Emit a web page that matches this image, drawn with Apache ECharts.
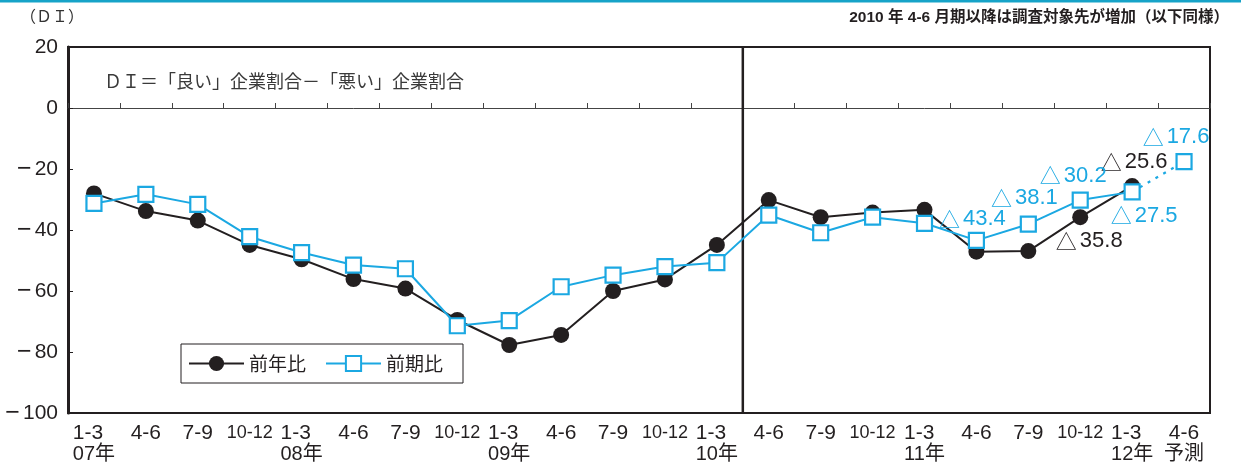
<!DOCTYPE html>
<html>
<head>
<meta charset="utf-8">
<script src="https://cdn.jsdelivr.net/npm/echarts@6/dist/echarts.min.js"></script>
<style>
html,body{margin:0;padding:0;background:#fff;}
#c{width:1241px;height:466px;}
</style>
</head>
<body>
<div id="c"></div>
<script>
// ---- data ----
const quarters = ['1-3','4-6','7-9','10-12','1-3','4-6','7-9','10-12','1-3','4-6','7-9','10-12',
                  '1-3','4-6','7-9','10-12','1-3','4-6','7-9','10-12','1-3','4-6'];
const yearTags = ['07年','','','','08年','','','','09年','','','','10年','','','','11年','','','','12年','予測'];
// 前年比 DI
const yoy = [-28.0,-33.8,-36.9,-44.9,-49.6,-56.1,-59.2,-69.5,-77.7,-74.4,-60.0,-56.2,
             -44.9,-30.2,-35.8,-34.3,-33.4,-47.1,-46.9,-35.8,-25.6,null];
// 前期比 DI
const qoq = [-31.3,-28.3,-31.6,-42.2,-47.4,-51.5,-52.7,-71.4,-69.7,-58.6,-54.8,-52.0,
             -50.7,-35.1,-40.9,-35.8,-37.8,-43.4,-38.1,-30.2,-27.5,null];
// 前期比 forecast (dotted)
const qoqForecast = [null,null,null,null,null,null,null,null,null,null,null,null,
                     null,null,null,null,null,null,null,null,-27.5,-17.6];
const yTicks = [-100,-80,-60,-40,-20,0,20];
const firstNewBaseIndex = 13; // 2010 4-6: survey sample enlarged

// ---- styles ----
const BLACK = '#231f20';
const BLUE = '#1ba8e2';
const LATIN = "'Liberation Sans Narrow','Liberation Sans','Noto Sans CJK JP',sans-serif";
const CJK = "'Noto Sans CJK JP',sans-serif";

const categories = quarters.map((q,i)=> yearTags[i] ? q + '\n' + yearTags[i] : q);
const fmt = v => '{t|△}{v|' + Math.abs(v).toFixed(1) + '}';

const yoyLabels = {19:{position:'bottom',offset:[9,0]}, 20:{position:'top',offset:[2,0]}};
const qoqLabels = {17:{position:'top',offset:[-4,3]}, 18:{position:'top',offset:[-4,-2]},
                   19:{position:'top',offset:[-7,0]}, 20:{position:'bottom',offset:[12,-1]}};
const fcLabels  = {21:{position:'top',offset:[-8,0]}};

function withLabels(arr, cfg, color){
  return arr.map((v,i)=>{
    if (cfg[i] && v != null) {
      return {value:v, label:{show:true, position:cfg[i].position, offset:cfg[i].offset,
        formatter: p => fmt(p.value),
        rich:{
          t:{fontSize:21, fontFamily:CJK, color:color, padding:[0,3,0,0]},
          v:{fontSize:22, fontFamily:LATIN, color:color}
        }}};
    }
    return v;
  });
}

const fcData = withLabels(qoqForecast, fcLabels, BLUE).map((d,i)=>{
  if (i === firstNewBaseIndex + 7 && d != null) return {value:d, symbol:'none'};
  return d;
});

const divider = [[firstNewBaseIndex-0.5, yTicks[0]],[firstNewBaseIndex-0.5, yTicks[yTicks.length-1]]];

const chart = echarts.init(document.getElementById('c'), null, {renderer:'canvas'});
chart.setOption({
  animation:false,
  backgroundColor:'#fff',
  grid:{left:68, right:31, top:47, bottom:53, show:true, borderColor:BLACK, borderWidth:2, backgroundColor:'transparent'},
  graphic:[
    {type:'rect', left:0, top:0, shape:{width:1241, height:2.5}, style:{fill:'#16a3c8'}},
    {type:'text', left:20, top:8, style:{text:'（ＤＩ）', font:"16px "+CJK, fill:'#333'}},
    {type:'text', right:12, top:10, style:{text:'2010 年 4-6 月期以降は調査対象先が増加（以下同様）',
      font:"bold 15.5px "+"'Liberation Sans Narrow','Liberation Sans','Noto Sans CJK JP',sans-serif", fill:BLACK}},
    {type:'text', left:104, top:72, style:{text:'ＤＩ＝「良い」企業割合－「悪い」企業割合', font:"18px "+CJK, fill:'#3a3a3a'}}
  ],
  legend:{
    data:['前年比','前期比'],
    left:181, top:344,
    orient:'horizontal',
    borderColor:BLACK, borderWidth:1,
    padding:[10,20,10,7],
    itemWidth:55, itemHeight:19, itemGap:19,
    textStyle:{fontSize:19, color:BLACK, fontFamily:CJK},
    backgroundColor:'#fff'
  },
  xAxis:[
    {type:'category', data:categories, boundaryGap:true, position:'bottom',
     axisLine:{onZero:false, show:false}, axisTick:{show:false}, splitLine:{show:false},
     axisLabel:{interval:0, margin:10, color:BLACK,
       formatter:(v)=>{
         const parts = v.split('\n');
         const q = parts[0], y = parts[1];
         const qs = q.length > 3 ? 'n' : 'q';
         if (y && y !== '予測') return '{'+qs+'l|'+q+'}\n{yl|'+y+'}';
         if (y) return '{'+qs+'|'+q+'}\n{y|'+y+'}';
         return '{'+qs+'|'+q+'}';
       },
       rich:{
         q:{fontSize:21, fontFamily:LATIN, color:BLACK, lineHeight:21},
         ql:{fontSize:21, fontFamily:LATIN, color:BLACK, lineHeight:21, align:'left'},
         n:{fontSize:18, fontFamily:LATIN, color:BLACK, lineHeight:21},
         nl:{fontSize:18, fontFamily:LATIN, color:BLACK, lineHeight:21, align:'left'},
         y:{fontSize:20, fontFamily:LATIN, color:BLACK, lineHeight:21},
         yl:{fontSize:20, fontFamily:LATIN, color:BLACK, lineHeight:21, align:'left'}
       }}},
    {type:'category', data:categories, boundaryGap:true, position:'bottom',
     axisLine:{onZero:true, show:true, lineStyle:{color:'#444', width:1}},
     axisTick:{show:true, inside:true, length:5, interval:0, lineStyle:{color:'#444', width:1}},
     axisLabel:{show:false}, splitLine:{show:false}},
    {type:'value', min:-0.5, max:quarters.length-0.5, show:false}
  ],
  yAxis:{
    type:'value', min:yTicks[0], max:yTicks[yTicks.length-1], interval:20,
    axisLine:{show:true, onZero:false, lineStyle:{color:BLACK, width:3}},
    axisTick:{show:true, inside:true, length:5, lineStyle:{color:BLACK, width:1}},
    splitLine:{show:false},
    axisLabel:{margin:10, color:BLACK,
      formatter:v => v < 0 ? '{m|\u2212}{d|' + Math.abs(v) + '}' : '{d|' + v + '}',
      rich:{
        m:{fontSize:25, fontFamily:"'Liberation Sans',sans-serif", color:BLACK, padding:[0,3,0,0]},
        d:{fontSize:21, fontFamily:LATIN, color:BLACK}
      }}
  },
  series:[
    {name:'前年比', type:'line', xAxisIndex:0, data:withLabels(yoy, yoyLabels, BLACK),
     symbol:'circle', symbolSize:16, z:3,
     lineStyle:{color:BLACK, width:2}, itemStyle:{color:BLACK}},
    {name:'前期比', type:'line', xAxisIndex:0, data:withLabels(qoq, qoqLabels, BLUE),
     symbol:'rect', symbolSize:15, z:4,
     lineStyle:{color:BLUE, width:2}, itemStyle:{color:'#fff', borderColor:BLUE, borderWidth:2.2}},
    {name:'前期比予測', type:'line', xAxisIndex:0, data:fcData,
     symbol:'rect', symbolSize:15, z:4,
     lineStyle:{color:BLUE, width:2.2, type:[3,6]}, itemStyle:{color:'#fff', borderColor:BLUE, borderWidth:2.2}},
    {name:'区切り', type:'line', xAxisIndex:2, data:divider, symbol:'none', silent:true, z:2,
     lineStyle:{color:BLACK, width:2.5}}
  ]
});
</script>
</body>
</html>
